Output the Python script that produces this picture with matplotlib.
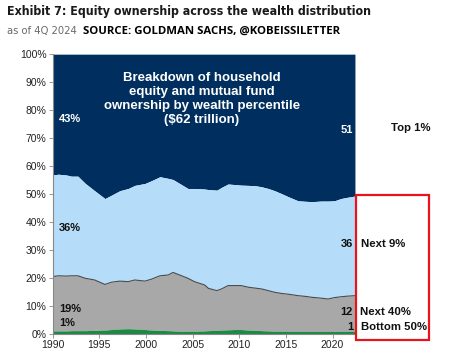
import matplotlib.pyplot as plt
from matplotlib.patches import Rectangle

# share of household equity (cumulative boundaries, %)
years = [1990, 1990.6, 1991.5, 1992, 1992.7, 1993.5, 1994.5, 1995.6, 1996.3,
         1997.2, 1998.1, 1998.8, 1999.9, 2000.6, 2001.5, 2002.4, 2002.9,
         2003.6, 2004.5, 2005.2, 2006.3, 2006.7, 2007.6, 2008.1, 2008.8,
         2009.5, 2010.2, 2011, 2011.7, 2012.4, 2013.1, 2013.8, 2014.5,
         2015.3, 2016.3, 2017.2, 2017.8, 2018.8, 2019.5, 2020.2, 2020.9,
         2021.5, 2022.4]

bottom50 = [1.1, 1.1, 1.1, 1.2, 1.2, 1.2, 1.3, 1.4, 1.6,
            1.8, 1.9, 1.8, 1.6, 1.4, 1.3, 1.2, 1.1,
            1.0, 1.0, 1.0, 1.1, 1.2, 1.3, 1.4, 1.5,
            1.6, 1.6, 1.4, 1.3, 1.2, 1.1, 1.0, 1.0,
            1.0, 0.9, 0.9, 0.9, 0.9, 0.9, 0.9, 1.0,
            1.0, 1.0]

# top of the "next 40%" band
upto90 = [20.5, 20.8, 20.7, 20.8, 20.8, 19.9, 19.3, 17.7, 18.5,
          18.9, 18.7, 19.3, 18.9, 19.6, 20.8, 21.1, 22.0,
          21.1, 19.9, 18.7, 17.5, 16.3, 15.5, 16.1, 17.3,
          17.3, 17.3, 16.7, 16.4, 16.1, 15.5, 14.9, 14.5,
          14.2, 13.7, 13.4, 13.1, 12.8, 12.5, 13.0, 13.3,
          13.5, 13.7]

# top of the "next 9%" band
upto99 = [56.8, 57.1, 56.8, 56.4, 56.4, 53.8, 51.2, 48.4, 49.6,
          51.2, 52.0, 53.1, 53.8, 54.8, 56.2, 55.6, 55.2,
          53.8, 52.0, 52.0, 51.8, 51.6, 51.4, 52.4, 53.6,
          53.4, 53.2, 53.1, 53.0, 52.6, 52.0, 51.2, 50.2,
          49.0, 47.6, 47.4, 47.3, 47.5, 47.5, 47.6, 48.4,
          48.8, 49.3]

left_labels = ['43%', '36%', '19%', '1%']
right_values = ['51', '36', '12', '1']
right_names = ['Top 1%', 'Next 9%', 'Next 40%', 'Bottom 50%']

navy = '#002f5f'
light_blue = '#b5dcf8'
grey = '#a8a8a8'
green = '#1b8a45'

plt.rcParams['font.family'] = ['Liberation Sans', 'DejaVu Sans']

fig = plt.figure(figsize=(4.58, 3.54), dpi=100)
ax = fig.add_axes([0.115, 0.0565, 0.66, 0.7905])

top = [100] * len(years)
ax.fill_between(years, upto99, top, color=navy, lw=0)
ax.fill_between(years, upto90, upto99, color=light_blue, lw=0)
ax.fill_between(years, bottom50, upto90, color=grey, lw=0)
ax.fill_between(years, 0, bottom50, color=green, lw=0)
ax.plot(years, upto90, color='#4a4a4a', lw=0.8)

ax.set_xlim(1990, 2022.4)
ax.set_ylim(0, 100)
ax.set_yticks(range(0, 101, 10))
ax.set_yticklabels(['%d%%' % v for v in range(0, 101, 10)])
ax.set_xticks(range(1990, 2021, 5))
ax.tick_params(labelsize=7.5, length=3, width=0.6, color='#888888',
               labelcolor='#222222', pad=1.5)
for s in ['top', 'right']:
    ax.spines[s].set_visible(False)
ax.spines['left'].set_color('#888888')
ax.spines['bottom'].set_color('#888888')

# left labels
for lab, y, c in zip(left_labels, [77, 38, 9, 4], ['white', '#111111', '#111111', '#111111']):
    ax.text(1990.7, y, lab, color=c, fontsize=8, fontweight='bold',
            va='center', ha='left')

# right labels
for val, name, y in zip(right_values, right_names, [73, 32, 8, 2.5]):
    ax.text(2022.2, y, val, color='white' if val == '51' else '#111111',
            fontsize=8, fontweight='bold', va='center', ha='right')
for name, x, y in zip(right_names, [2026.3, 2023.1, 2022.9, 2023.1],
                      [73.5, 32, 8, 2.5]):
    ax.text(x, y, name, fontsize=8.2, fontweight='bold', va='center',
            ha='left', color='#111111', clip_on=False)

ax.text(2006, 84, 'Breakdown of household\nequity and mutual fund\n'
        'ownership by wealth percentile\n($62 trillion)', color='white',
        fontsize=9.5, fontweight='bold', ha='center', va='center',
        linespacing=1.2)

fig.add_artist(Rectangle((356 / 458, 1 - 340 / 354), 73 / 458, 145 / 354,
                         transform=fig.transFigure, fill=False,
                         edgecolor='#e8141c', lw=1.6))

fig.text(7 / 458, 1 - 12 / 354,
         'Exhibit 7: Equity ownership across the wealth distribution',
         fontsize=8.9, fontweight='bold', color='#1a1a1a', va='center',
         family='DejaVu Sans', fontstretch='condensed')
fig.text(7 / 458, 1 - 31 / 354, 'as of 4Q 2024', fontsize=8,
         color='#6a6a6a', va='center',
         family='DejaVu Sans', fontstretch='condensed')
fig.text(83 / 458, 1 - 31 / 354, 'SOURCE: GOLDMAN SACHS, @KOBEISSILETTER',
         fontsize=8.2, fontweight='bold', color='black', va='center',
         family=['Open Sans', 'DejaVu Sans'])

fig.savefig('out.png', dpi=100)
